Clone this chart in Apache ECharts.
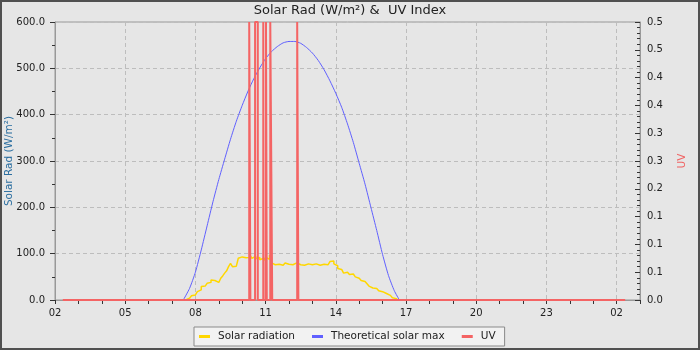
<!DOCTYPE html>
<html><head><meta charset="utf-8">
<script src="https://cdn.jsdelivr.net/npm/echarts@6/dist/echarts.min.js"></script>
<style>html,body{margin:0;padding:0;background:#e6e6e6}#c{width:700px;height:350px}</style>
</head><body><div id="c"></div>
<script>
// ---- data ----
const chartTitle = 'Solar Rad (W/m²) &  UV Index';
const seriesNames = ['Solar radiation', 'Theoretical solar max', 'UV'];
const xTickLabels = ['02', '05', '08', '11', '14', '17', '20', '23', '02'];
const rightTickLabels = ['0.0', '0.1', '0.1', '0.1', '0.2', '0.3', '0.3', '0.4', '0.4', '0.5', '0.5'];
const dataStart = '02:20';
const dataEnd = '+02:22';

// Solar radiation, 5-minute samples from 07:35 (zero outside)
const solarFirst = '07:35';
const solarStepMin = 5;
const solarValues = [
  0, 2, 4, 7, 9, 11, 13, 18, 22, 29, 30, 34, 36, 38, 43, 42, 40, 38, 40, 47,
  52, 58, 63, 72, 79, 72, 73, 76, 90, 93, 92, 91, 95, 92, 97, 90, 94, 89, 92, 87,
  90, 85, 92, 88, 97, 80, 76, 80, 77, 80, 75, 78, 80, 77, 79, 76, 79, 80, 78, 76,
  79, 75, 77, 78, 74, 76, 75, 78, 76, 75, 78, 77, 75, 76, 74, 83, 84, 78, 74, 68,
  66, 62, 58, 60, 59, 55, 56, 52, 50, 47, 45, 42, 40, 38, 35, 30, 26, 24, 25, 22,
  20, 18, 17, 14, 12, 10, 8, 5, 3, 0
];

// Theoretical solar max (zero outside)
const theoTimes = ['07:29', '07:45', '08:00', '08:15', '08:30', '08:45', '09:00', '09:15', '09:30', '09:45',
  '10:00', '10:15', '10:30', '10:45', '11:00', '11:15', '11:30', '11:45', '12:00', '12:15',
  '12:30', '12:45', '13:00', '13:15', '13:30', '13:45', '14:00', '14:15', '14:30', '14:45',
  '15:00', '15:15', '15:30', '15:45', '16:00', '16:15', '16:30', '16:43'];
const theoValues = [0, 25, 60, 108, 160, 212, 260, 304, 347, 386,
  420, 451, 478, 501, 521, 536, 547, 555, 558, 558,
  554, 545, 533, 517, 497, 473, 446, 416, 380, 340,
  295, 250, 200, 150, 98, 53, 20, 0];

// UV spikes (start, end, value) - spikes reach the top of the scale
const uvSpikeStart = ['10:18', '10:33', '10:54', '11:01', '11:12', '12:21'];
const uvSpikeEnd   = ['10:21', '10:40', '10:55', '11:03', '11:17', '12:24'];
const uvSpikeValue = [0.5, 0.5, 0.5, 0.5, 0.5, 0.5];

// ---- helpers ----
function toHours(s) {
  const next = s[0] === '+';
  const p = s.replace('+', '').split(':').map(Number);
  return p[0] + p[1] / 60 + (next ? 24 : 0);
}
const solarData = [];
solarValues.forEach((v, i) => solarData.push([toHours(solarFirst) + i * solarStepMin / 60, v]));

const theoData = [];
theoTimes.forEach((t, i) => theoData.push([toHours(t), theoValues[i]]));

const uvData = [[toHours(dataStart), 0]];
uvSpikeStart.forEach((t, i) => {
  const a = toHours(t), b = toHours(uvSpikeEnd[i]);
  uvData.push([a, 0], [a, uvSpikeValue[i]], [b, uvSpikeValue[i]], [b, 0]);
});
uvData.push([toHours(dataEnd), 0]);

const FONT = 'DejaVu Sans';
const chart = echarts.init(document.getElementById('c'), null, { renderer: 'canvas' });
chart.setOption({
  backgroundColor: '#e6e6e6',
  animation: false,
  textStyle: { fontFamily: FONT },
  title: {
    text: chartTitle, left: 'center', top: 4, padding: 0,
    textStyle: { fontFamily: FONT, fontSize: 13, fontWeight: 'normal', color: '#222' }
  },
  grid: { left: 55, right: 60, top: 22, bottom: 50, outerBoundsMode: 'none', containLabel: false,
    show: true, borderColor: '#999', borderWidth: 1, backgroundColor: 'transparent' },
  legend: {
    data: seriesNames, left: 194, top: 327, orient: 'horizontal',
    icon: 'rect', itemWidth: 11, itemHeight: 3, itemGap: 17,
    padding: [4, 9, 4, 5],
    backgroundColor: '#f2f2f2', borderColor: '#8a8a8a', borderWidth: 1, borderRadius: 0,
    textStyle: { fontFamily: FONT, fontSize: 10.5, color: '#222', padding: [0, 0, 0, 3] }
  },
  xAxis: [{
    type: 'value', min: 2, max: 27, interval: 1, position: 'bottom',
    axisLine: { show: true, lineStyle: { color: '#999' } },
    axisTick: { show: true, length: 4, lineStyle: { color: '#333' } },
    axisLabel: {
      fontSize: 10, color: '#222', margin: 8, fontFamily: FONT,
      formatter: v => {
        const k = Math.round(v - 2);
        return (k % 3 === 0 && k / 3 < xTickLabels.length) ? xTickLabels[k / 3] : '';
      }
    },
    splitLine: { show: false }
  }, {
    type: 'value', min: 2, max: 27, interval: 3, position: 'bottom',
    axisLine: { show: false }, axisTick: { show: false }, axisLabel: { show: false },
    splitLine: { show: true, lineStyle: { color: '#bdbdbd', type: [4, 3], width: 1 } }
  }],
  yAxis: [{
    type: 'value', min: 0, max: 600, interval: 100, position: 'left',
    name: 'Solar Rad (W/m²)', nameLocation: 'middle', nameGap: 40, nameMoveOverlap: false,
    nameTextStyle: { color: '#2a6ea0', fontSize: 10.5, fontFamily: FONT },
    axisLine: { show: true, lineStyle: { color: '#999' } },
    axisTick: { show: true, length: 5, lineStyle: { color: '#333' } },
    minorTick: { show: true, splitNumber: 2, length: 3, lineStyle: { color: '#333' } },
    axisLabel: { fontSize: 10, color: '#222', margin: 10, fontFamily: FONT, formatter: v => v.toFixed(1) },
    splitLine: { show: true, lineStyle: { color: '#bdbdbd', type: [4, 3], width: 1 } }
  }, {
    type: 'value', min: 0, max: 0.5, interval: 0.05, position: 'right',
    name: 'UV', nameLocation: 'middle', nameGap: 37, nameMoveOverlap: false,
    nameTextStyle: { color: '#f06464', fontSize: 10.5, fontFamily: FONT },
    axisLine: { show: true, lineStyle: { color: '#999' } },
    axisTick: { show: true, inside: true, length: 5, lineStyle: { color: '#333' } },
    minorTick: { show: true, splitNumber: 5, length: 3, lineStyle: { color: '#333' } },
    axisLabel: { fontSize: 10, color: '#222', margin: 7, fontFamily: FONT,
      formatter: v => rightTickLabels[Math.round(v / 0.05)] || '' },
    splitLine: { show: false }
  }],
  series: [{
    name: seriesNames[0], type: 'line', xAxisIndex: 0, yAxisIndex: 0, step: 'start',
    data: solarData, showSymbol: false, symbol: 'none', clip: false,
    lineStyle: { color: '#ffd700', width: 1.5 }, itemStyle: { color: '#ffd700' }, z: 2
  }, {
    name: seriesNames[1], type: 'line', xAxisIndex: 0, yAxisIndex: 0, smooth: 0.2,
    data: theoData, showSymbol: false, symbol: 'none', clip: false,
    lineStyle: { color: '#6060ff', width: 1 }, itemStyle: { color: '#6060ff' }, z: 3
  }, {
    name: seriesNames[2], type: 'line', xAxisIndex: 0, yAxisIndex: 1,
    data: uvData, showSymbol: false, symbol: 'none', clip: false,
    lineStyle: { color: '#f46464', width: 2 }, itemStyle: { color: '#f46464' }, z: 4
  }],
  graphic: [{
    type: 'rect', shape: { x: 1, y: 1, width: 698, height: 348 },
    style: { fill: 'none', stroke: '#505050', lineWidth: 2 }, z: 100, silent: true
  }]
});
</script>
</body></html>
